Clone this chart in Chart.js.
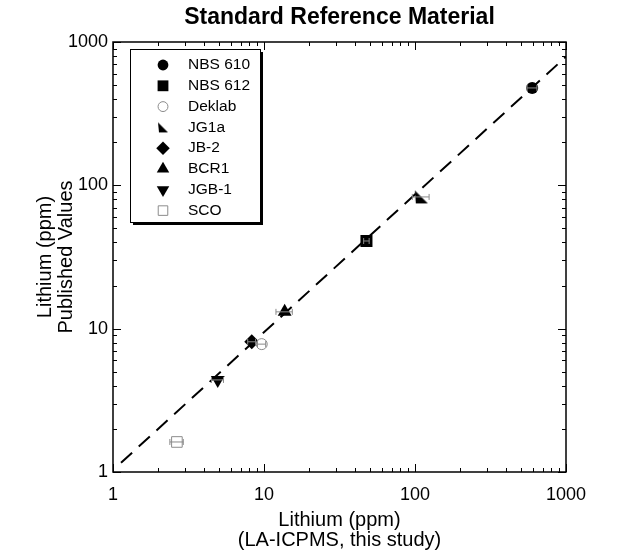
<!DOCTYPE html>
<html>
<head>
<meta charset="utf-8">
<script src="https://cdn.jsdelivr.net/npm/chart.js@4.4.1/dist/chart.umd.min.js"></script>
<style>
  html, body { margin: 0; padding: 0; background: #fff; }
  #wrap { width: 617px; height: 556px; }
</style>
</head>
<body>
<div id="wrap"><canvas id="srmChart"></canvas></div>
<script>
// reference materials, Li by LA-ICPMS (x) against published Li (y), ppm
const samples = ["NBS 610", "NBS 612", "Deklab", "JG1a", "JB-2", "BCR1", "JGB-1", "SCO"];
const measured = [597, 47.7, 9.66, 110, 8.3, 13.7, 4.94, 2.65];
const published = [478, 40.9, 7.8, 83, 8.1, 13.1, 4.39, 1.62];
const measuredErr = [45, 2, 0.6, 14, 0.5, 1.7, 0.45, 0.27];

// dashed regression line end points
const fitX = [1.13, 1000];
const fitY = [1.16, 790];

const tickValues = [1, 10, 100, 1000];

const FONT = '"Liberation Sans", Arial, Helvetica, sans-serif';
Chart.defaults.font.family = FONT;
Chart.defaults.color = '#000';

// half-filled wedge used for JG1a
function wedge(size) {
  const c = document.createElement('canvas');
  c.width = size; c.height = size;
  const g = c.getContext('2d');
  g.fillStyle = '#000';
  g.beginPath();
  g.moveTo(1, 1);
  g.lineTo(2, size - 1);
  g.lineTo(size - 1, size - 1);
  g.closePath();
  g.fill();
  return c;
}

const markers = [
  { pointStyle: 'circle', radius: 6, bg: '#000', border: '#000', bw: 0, rotation: 0 },
  { pointStyle: 'rect', radius: 8.5, bg: '#000', border: '#000', bw: 0, rotation: 0 },
  { pointStyle: 'circle', radius: 5.5, bg: '#fff', border: '#8c8c8c', bw: 1, rotation: 0 },
  { pointStyle: wedge(15), legendStyle: wedge(12), radius: 7, bg: '#000', border: '#000', bw: 0, rotation: 0 },
  { pointStyle: 'rectRot', radius: 7.5, bg: '#000', border: '#000', bw: 0, rotation: 0 },
  { pointStyle: 'triangle', radius: 8, bg: '#000', border: '#000', bw: 0, rotation: 0 },
  { pointStyle: 'triangle', radius: 8, bg: '#000', border: '#000', bw: 0, rotation: 180 },
  { pointStyle: 'rect', radius: 7.5, bg: '#fff', border: '#8c8c8c', bw: 1, rotation: 0 }
];

const datasets = samples.map((name, i) => ({
  type: 'scatter',
  label: name,
  data: [{ x: measured[i], y: published[i] }],
  errX: [measuredErr[i]],
  pointStyle: markers[i].pointStyle,
  pointRadius: markers[i].radius,
  pointRotation: markers[i].rotation,
  backgroundColor: markers[i].bg,
  borderColor: markers[i].border,
  borderWidth: markers[i].bw,
  order: 0
}));

datasets.push({
  type: 'line',
  label: 'fit',
  data: fitX.map((x, i) => ({ x, y: fitY[i] })),
  borderColor: '#000',
  borderWidth: 2,
  borderDash: [15, 9],
  pointRadius: 0,
  fill: false,
  order: 10
});

// horizontal error bars on the measured values
const errorBars = {
  id: 'errorBars',
  afterDatasetsDraw(chart) {
    const { ctx, scales: { x, y } } = chart;
    ctx.save();
    ctx.strokeStyle = '#8a8a8a';
    ctx.lineWidth = 1;
    chart.data.datasets.forEach(ds => {
      if (!ds.errX) return;
      ds.data.forEach((p, j) => {
        const e = ds.errX[j];
        const x0 = x.getPixelForValue(p.x - e);
        const x1 = x.getPixelForValue(p.x + e);
        const py = y.getPixelForValue(p.y);
        ctx.beginPath();
        ctx.moveTo(x0, py); ctx.lineTo(x1, py);
        ctx.moveTo(x0, py - 3); ctx.lineTo(x0, py + 3);
        ctx.moveTo(x1, py - 3); ctx.lineTo(x1, py + 3);
        ctx.stroke();
      });
    });
    ctx.restore();
  }
};

// closed frame with inward log ticks on all four sides
const frameTicks = {
  id: 'frameTicks',
  afterDraw(chart) {
    const { ctx, chartArea: a, scales: { x, y } } = chart;
    ctx.save();
    ctx.strokeStyle = '#000';
    ctx.lineWidth = 1;
    const seg = (x0, y0, x1, y1) => { ctx.beginPath(); ctx.moveTo(x0, y0); ctx.lineTo(x1, y1); ctx.stroke(); };
    for (let d = 1; d < 1000; d *= 10) {
      for (let m = 1; m <= 10; m++) {
        const v = d * m;
        const len = (m === 1 || m === 10) ? 8 : 4;
        const px = Math.round(x.getPixelForValue(v)) + 0.5;
        const py = Math.round(y.getPixelForValue(v)) + 0.5;
        seg(px, a.bottom, px, a.bottom - len);
        seg(px, a.top, px, a.top + len);
        seg(a.left, py, a.left + len, py);
        seg(a.right, py, a.right - len, py);
      }
    }
    ctx.lineWidth = 1.5;
    ctx.strokeRect(a.left, a.top, a.right - a.left, a.bottom - a.top);
    ctx.restore();
  }
};

// boxed key with drop shadow inside the plot
const boxLegend = {
  id: 'boxLegend',
  afterDraw(chart) {
    const { ctx, chartArea: a } = chart;
    const left = a.left + 17, top = a.top + 7, w = 130, h = 173;
    ctx.save();
    ctx.fillStyle = '#000';
    ctx.fillRect(left + 3, top + 3, w, h);
    ctx.fillStyle = '#fff';
    ctx.fillRect(left, top, w, h);
    ctx.strokeStyle = '#000';
    ctx.lineWidth = 1;
    ctx.strokeRect(left + 0.5, top + 0.5, w, h);
    ctx.font = '15.5px ' + FONT;
    ctx.textBaseline = 'middle';
    samples.forEach((name, i) => {
      const yy = top + 16 + i * 20.8;
      const m = markers[i];
      ctx.fillStyle = m.bg;
      ctx.strokeStyle = m.border;
      ctx.lineWidth = m.bw;
      Chart.helpers.drawPoint(ctx, {
        pointStyle: m.legendStyle || m.pointStyle,
        radius: m.radius * 0.9,
        rotation: m.rotation,
        borderWidth: m.bw
      }, left + 33, yy);
      ctx.fillStyle = '#000';
      ctx.fillText(name, left + 58, yy);
    });
    ctx.restore();
  }
};

const logLabel = v => tickValues.includes(v) ? String(v) : '';

new Chart(document.getElementById('srmChart'), {
  data: { datasets },
  options: {
    responsive: true,
    maintainAspectRatio: false,
    animation: false,
    layout: { padding: { top: 0, right: 51, bottom: 0, left: 0 } },
    plugins: {
      legend: { display: false },
      tooltip: { enabled: false },
      title: {
        display: true,
        text: 'Standard Reference Material',
        fullSize: false,
        color: '#000',
        font: { size: 23, weight: 'bold' },
        padding: { top: 4, bottom: 10.4 }
      }
    },
    scales: {
      x: {
        type: 'logarithmic',
        min: 1,
        max: 1000,
        grid: { display: false, drawTicks: false },
        border: { display: false },
        ticks: { autoSkip: false, maxRotation: 0, padding: 12, font: { size: 18 }, callback: logLabel },
        title: {
          display: true,
          text: ['Lithium (ppm)', '(LA-ICPMS, this study)'],
          font: { size: 20, lineHeight: 1.0 },
          padding: { top: 0, bottom: 6 }
        },
        afterFit: s => { s.height = 84; }
      },
      y: {
        type: 'logarithmic',
        min: 1,
        max: 1000,
        grid: { display: false, drawTicks: false },
        border: { display: false },
        ticks: { autoSkip: false, padding: 5, font: { size: 18 }, callback: logLabel },
        title: {
          display: true,
          text: ['Lithium (ppm)', 'Published Values'],
          font: { size: 20, lineHeight: 1.05 },
          padding: { top: 35, bottom: 0 }
        },
        afterFit: s => { s.width = 113; }
      }
    }
  },
  plugins: [errorBars, frameTicks, boxLegend]
});
</script>
</body>
</html>
